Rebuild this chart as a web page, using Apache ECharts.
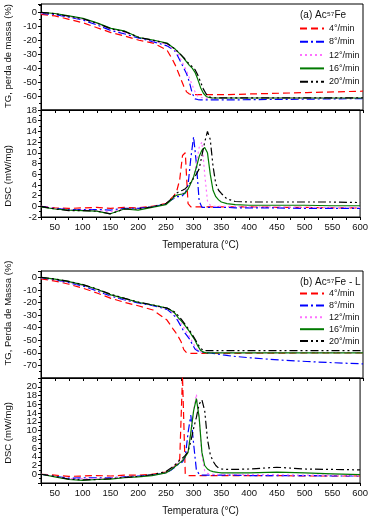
<!DOCTYPE html>
<html>
<head>
<meta charset="utf-8">
<script src="https://cdn.jsdelivr.net/npm/echarts@6/dist/echarts.min.js"></script>
<style>
html, body { margin: 0; padding: 0; background: #fff; }
#chart { width: 371px; height: 521px; }
</style>
</head>
<body>
<div id="chart"></div>
<script>
// temperature grid (°C) shared by every curve
var temps = [25, 50, 75, 100, 125, 150, 175, 200, 225, 250,
    260, 265, 270, 275, 280, 285, 290, 295, 300, 305,
    310, 315, 320, 325, 330, 335, 340, 345, 350,
    360, 375, 400, 450, 500, 550, 600];

var rateNames = ['4°/min', '8°/min', '12°/min', '16°/min', '20°/min'];

// (a) Ac57Fe - TG (%)
var tgA4 = [-1.5, -2.5, -5, -7.5, -11, -14.5, -17, -20, -22, -27, -34, -38, -43, -48, -53, -57, -58.5, -59, -59, -59, -59, -59, -59, -59, -59, -59, -59, -59, -59, -59, -58.8, -58.5, -58, -57.5, -57, -56.5];
var tgA8 = [-0.8, -1.5, -3.5, -5.5, -9, -13, -15.5, -18.5, -21, -24, -26.5, -28, -32, -36, -40, -44, -50, -58, -62, -62.5, -62.7, -62.7, -62.7, -62.7, -62.7, -62.7, -62.7, -62.7, -62.7, -62.7, -62.7, -62.6, -62.4, -62.2, -62, -61.8];
var tgA12 = [-0.5, -1, -3, -5, -8, -12, -14.5, -18, -20.5, -23, -26, -27.5, -30, -34, -38, -42, -47, -52, -57, -60, -61, -61.3, -61.5, -61.5, -61.5, -61.5, -61.5, -61.5, -61.5, -61.5, -61.5, -61.5, -61.5, -61.5, -61.5, -61.5];
var tgA16 = [0, -0.8, -2.5, -4.3, -7.5, -11.5, -13.5, -18, -19.8, -22, -25, -26.5, -28.5, -30.5, -33, -35.5, -38, -40, -43, -48, -54, -58, -60.3, -61, -61.3, -61.4, -61.4, -61.4, -61.4, -61.4, -61.4, -61.4, -61.4, -61.4, -61.4, -61.4];
var tgA20 = [0, -1, -2.8, -4.6, -7.8, -11.8, -13.8, -18, -20, -22.3, -25, -26.5, -28.5, -30.5, -32.5, -35, -37, -39, -41, -45, -50, -55, -58.5, -60.5, -61.2, -61.3, -61.3, -61.3, -61.3, -61.3, -61.3, -61.3, -61.3, -61.3, -61.3, -61.3];

// (a) Ac57Fe - DSC (mW/mg)
var dscA4 = [0, -0.3, -0.4, -0.3, -0.2, -0.4, -0.2, -0.3, 0, 0.5, 1.5, 2, 3, 5, 9.5, 10, 0.5, -0.1, -0.1, -0.1, -0.1, -0.1, -0.1, -0.1, -0.1, -0.1, -0.1, -0.1, -0.1, -0.1, -0.1, -0.1, -0.2, -0.2, -0.3, -0.3];
var dscA8 = [0, -0.4, -0.6, -0.6, -0.6, -0.7, -0.4, -0.4, -0.1, 0.4, 1.2, 1.5, 1.8, 1.8, 2, 2.5, 4, 9, 13, 8, 1, -0.2, -0.2, -0.2, -0.2, -0.2, -0.2, -0.2, -0.2, -0.2, -0.3, -0.3, -0.3, -0.4, -0.4, -0.4];
var dscA12 = [0, -0.4, -0.7, -0.7, -0.8, -1, -0.5, -0.5, -0.1, 0.4, 1.3, 1.7, 2, 2.2, 2.4, 2.8, 3.3, 4.2, 5.5, 8, 11, 12, 6, 1, 0.2, 0, 0, 0, 0, 0, 0, -0.1, -0.1, -0.2, -0.2, -0.2];
var dscA16 = [-0.1, -0.5, -0.7, -0.8, -0.9, -1.4, -0.5, -0.7, -0.2, 0.3, 1.2, 1.8, 2.1, 2.2, 2.3, 2.5, 3.2, 4.3, 5.5, 7.3, 9.3, 10.5, 11, 10, 6, 3, 1.8, 1.2, 0.8, 0.5, 0.3, 0.2, 0.2, 0.2, 0.1, 0.1];
var dscA20 = [0, -0.5, -0.8, -0.8, -0.9, -1.4, -0.5, -0.5, -0.1, 0.5, 1.4, 2, 2.5, 2.8, 3, 3.3, 3.8, 4.5, 5.2, 6, 7, 9.5, 12, 14, 12.5, 7.5, 4.2, 3, 2.4, 1.4, 0.9, 0.8, 0.8, 0.8, 0.8, 0.7];

// (b) Ac57Fe - L - TG (%)
var tgB4 = [-1.2, -3, -5.5, -8.7, -12.5, -16.7, -20, -22.8, -26, -34, -40.5, -43.5, -47, -51, -57.5, -60, -60.4, -60.4, -60.4, -60.4, -60.4, -60.4, -60.4, -60.4, -60.4, -60.4, -60.4, -60.4, -60.4, -60.4, -60.4, -60.3, -60.2, -60.1, -60, -60];
var tgB8 = [-0.3, -2, -4.3, -7, -10.8, -15, -18, -20.5, -22.5, -25.5, -29, -31.5, -35, -39, -43, -46, -49, -53, -57, -58.5, -59, -59.5, -59.8, -60, -60.3, -60.6, -61, -61.3, -61.7, -62.3, -63, -64, -65.7, -66.9, -67.9, -68.8];
var tgB12 = [-0.2, -1.8, -4, -6.5, -10, -14.5, -17.5, -20.3, -22.3, -25, -28, -30, -33, -36.5, -40, -43.5, -47, -51, -55, -58, -59.3, -59.8, -59.8, -59.8, -59.8, -59.8, -59.8, -59.8, -59.8, -59.8, -59.8, -59.8, -59.8, -59.8, -59.8, -59.8];
var tgB16 = [0, -1.5, -3.5, -6, -9.5, -14, -17, -20, -22, -24.5, -27, -29, -32, -34.5, -37, -40, -43, -46.5, -50, -54.5, -58, -59.5, -60, -60, -60, -60, -60, -60, -60, -60, -60, -60, -60, -60, -60, -60];
var tgB20 = [0, -1.3, -3.3, -5.8, -9.3, -13.5, -16.8, -19.8, -22, -24.5, -26.5, -28, -30.5, -33, -36, -39, -42, -45.5, -49, -53, -56.5, -58, -58.3, -58.3, -58.3, -58.3, -58.3, -58.3, -58.3, -58.3, -58.3, -58.3, -58.3, -58.3, -58.3, -58.3];

// (b) Ac57Fe - L - DSC (mW/mg)
var dscB4 = [0, -0.2, -0.5, -0.4, -0.3, -0.4, -0.2, -0.2, 0, 0.5, 1.2, 1.8, 2.4, 3.5, 22.5, 0, -0.3, -0.3, -0.3, -0.3, -0.3, -0.3, -0.3, -0.3, -0.3, -0.3, -0.3, -0.3, -0.3, -0.3, -0.3, -0.3, -0.3, -0.4, -0.4, -0.4];
var dscB8 = [0, -0.5, -0.9, -0.8, -0.8, -0.8, -0.6, -0.4, -0.2, 0.3, 1, 1.5, 2, 2.5, 2.8, 4, 9.5, 13.5, 7, 1, 0, -0.2, -0.2, -0.2, -0.2, -0.2, -0.2, -0.2, -0.2, -0.2, -0.2, -0.3, -0.3, -0.3, -0.4, -0.4];
var dscB12 = [0, -0.5, -1, -1, -1, -0.9, -0.6, -0.5, -0.2, 0.3, 1.2, 1.8, 2.3, 2.8, 3.3, 4.2, 5.5, 9.5, 14.5, 18.3, 13, 4, 0.8, 0.2, 0, 0, 0, 0, 0, 0, 0, -0.1, -0.1, -0.2, -0.2, -0.3];
var dscB16 = [0, -0.6, -1.2, -1.4, -1.2, -1.1, -0.8, -0.6, -0.3, 0.3, 1.1, 1.6, 2.1, 2.6, 3.1, 4, 5, 9.5, 14.5, 17.3, 13, 5, 2, 1.2, 0.8, 0.6, 0.5, 0.4, 0.3, 0.3, 0.3, 0.3, 0.5, 0.3, 0.1, -0.1];
var dscB20 = [0, -0.5, -1.1, -1.3, -1.2, -1, -0.7, -0.5, -0.1, 0.6, 1.5, 2, 2.6, 3.2, 3.7, 4.3, 5.2, 7.5, 10.5, 13, 16, 17, 14.5, 8, 4.5, 3, 2, 1.4, 1.2, 1.1, 1.1, 1.2, 1.6, 1.2, 1.1, 1];

var FONT = '"Liberation Sans", Arial, sans-serif';
var TXT = '#111';

// line look for each heating rate
var rateStyles = [
    { color: '#ff0000', type: [7, 4] },
    { color: '#0000ff', type: [8, 3, 2, 3] },
    { color: '#ff70ff', type: [2, 3] },
    { color: '#007a00', type: 'solid' },
    { color: '#000000', type: [8, 3, 2, 3, 2, 3] }
];

/**
 * Build a line series for one heating rate on one grid.
 * @param {number} idx rate index
 * @param {number[]} values
 * @param {number} gridIdx
 * @returns {object}
 */
function makeSeries(idx, values, gridIdx) {
    var st = rateStyles[idx];
    return {
        name: rateNames[idx],
        type: 'line',
        xAxisIndex: gridIdx,
        yAxisIndex: gridIdx,
        data: temps.map(function (t, i) { return [t, values[i]]; }),
        symbol: 'none',
        smooth: false,
        clip: true,
        lineStyle: { color: st.color, width: 1.2, type: st.type },
        itemStyle: { color: st.color },
        emphasis: { disabled: true }
    };
}

function xAxisFor(gridIdx, withLabels) {
    return {
        type: 'value',
        gridIndex: gridIdx,
        min: 25,
        max: 600,
        interval: 25,
        axisLine: { show: true, onZero: false, lineStyle: { color: '#000', width: 1 } },
        axisTick: { show: true, length: 3, lineStyle: { color: '#000' } },
        axisLabel: {
            show: withLabels,
            margin: 5,
            fontSize: 9.5,
            color: TXT,
            fontFamily: FONT,
            formatter: function (v) { return v % 50 === 0 ? String(v) : ''; }
        },
        splitLine: { show: false },
        name: withLabels ? 'Temperatura (°C)' : '',
        nameLocation: 'middle',
        nameGap: 23,
        nameTextStyle: { fontSize: 10, color: TXT, fontFamily: FONT }
    };
}

function yAxisFor(gridIdx, min, max, step, labelFilter) {
    return {
        type: 'value',
        gridIndex: gridIdx,
        min: min,
        max: max,
        interval: step,
        axisLine: { show: true, onZero: false, lineStyle: { color: '#000', width: 1 } },
        axisTick: { show: true, length: 3, lineStyle: { color: '#000' } },
        minorTick: { show: true, splitNumber: 2, length: 2, lineStyle: { color: '#000' } },
        axisLabel: {
            margin: 4,
            fontSize: 9.5,
            color: TXT,
            fontFamily: FONT,
            formatter: function (v) { return labelFilter(v) ? String(v) : ''; }
        },
        splitLine: { show: false }
    };
}

function tgFilter(low) {
    return function (v) { return v % 10 === 0 && v > low && v <= 0; };
}
function dscFilter(v) { return v % 2 === 0; }

var gridBase = { left: 41, right: 8, show: true, borderColor: '#000', borderWidth: 1, backgroundColor: 'transparent' };
function grid(top, height) {
    return Object.assign({}, gridBase, { top: top, height: height });
}

var series = [];
[tgA4, tgA8, tgA12, tgA16, tgA20].forEach(function (arr, i) { series.push(makeSeries(i, arr, 0)); });
[dscA4, dscA8, dscA12, dscA16, dscA20].forEach(function (arr, i) { series.push(makeSeries(i, arr, 1)); });
[tgB4, tgB8, tgB12, tgB16, tgB20].forEach(function (arr, i) { series.push(makeSeries(i, arr, 2)); });
[dscB4, dscB8, dscB12, dscB16, dscB20].forEach(function (arr, i) { series.push(makeSeries(i, arr, 3)); });

function legendAt(top, gap) {
    return {
        data: rateNames,
        orient: 'vertical',
        left: 299,
        top: top,
        itemWidth: 24,
        itemHeight: 8,
        itemGap: gap,
        padding: 0,
        selectedMode: false,
        // hide the marker that line series put in the middle of the legend icon
        itemStyle: { opacity: 0, color: 'transparent', borderColor: 'transparent', borderWidth: 0 },
        textStyle: { fontSize: 9, color: TXT, fontFamily: FONT, lineHeight: 11 }
    };
}

function sideTitle(text, x, y) {
    return {
        type: 'text',
        x: x,
        y: y,
        rotation: Math.PI / 2,
        style: { text: text, fill: TXT, font: '9.5px ' + FONT, align: 'center', verticalAlign: 'middle' }
    };
}

function panelTitle(text, x, y) {
    return {
        type: 'text',
        x: x,
        y: y,
        style: { text: text, fill: TXT, font: '10px ' + FONT, align: 'left', verticalAlign: 'middle' }
    };
}

var option = {
    animation: false,
    backgroundColor: '#fff',
    grid: [grid(4, 106), grid(110, 107), grid(271, 107), grid(378, 105)],
    xAxis: [xAxisFor(0, false), xAxisFor(1, true), xAxisFor(2, false), xAxisFor(3, true)],
    yAxis: [
        yAxisFor(0, -70, 6, 10, tgFilter(-70)),
        yAxisFor(1, -2, 18, 2, dscFilter),
        yAxisFor(2, -80, 5, 10, tgFilter(-80)),
        yAxisFor(3, -2, 22, 2, dscFilter)
    ],
    legend: [legendAt(23, 2.3), legendAt(288, 0.9)],
    graphic: [
        sideTitle('TG, perda de massa (%)', 8, 56),
        sideTitle('DSC (mW/mg)', 8, 176),
        sideTitle('TG, Perda de Massa (%)', 8, 313),
        sideTitle('DSC (mW/mg)', 8, 433),
        panelTitle('(a) Ac⁵⁷Fe', 300, 15),
        panelTitle('(b) Ac⁵⁷Fe - L', 300, 282)
    ],
    series: series
};

var chart = echarts.init(document.getElementById('chart'), null, { renderer: 'canvas' });
chart.setOption(option);
</script>
</body>
</html>
